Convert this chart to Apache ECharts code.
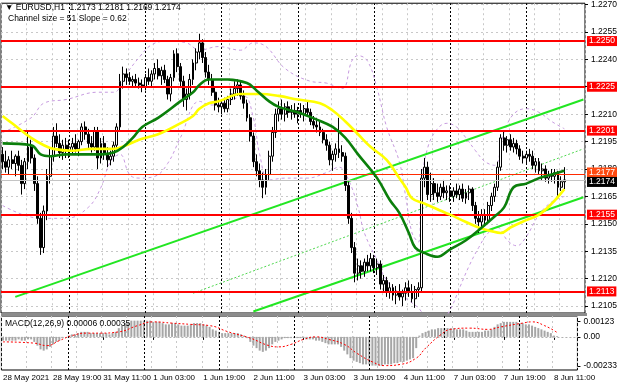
<!DOCTYPE html>
<html><head><meta charset="utf-8">
<script src="https://cdn.jsdelivr.net/npm/echarts@6/dist/echarts.min.js"></script>
<style>html,body{margin:0;padding:0;background:#fff}#c{width:620px;height:388px}</style>
</head><body><div id="c"></div><script>
// ---- data ----
const dayRanges = [['28 May',3,23],['31 May',0,23],['1 Jun',0,23],['2 Jun',0,23],['3 Jun',0,23],['4 Jun',0,23],['7 Jun',0,23],['8 Jun',0,12]];
const totalSlots = 184;
const opens = [1.2188,1.2184,1.2181,1.2185,1.2183,1.2187,1.2182,1.2172,1.2184,1.2192,
1.2186,1.2172,1.2153,1.2137,1.2157,1.2176,1.2187,1.2198,1.2194,1.2189,
1.2193,1.2190,1.2192,1.2194,1.2191,1.2195,1.2203,1.2199,1.2194,1.2192,
1.2201,1.2186,1.2194,1.2188,1.2185,1.2187,1.2193,1.2203,1.2228,1.2232,
1.2230,1.2228,1.2229,1.2227,1.2226,1.2225,1.2230,1.2228,1.2232,1.2235,
1.2231,1.2234,1.2229,1.2221,1.2230,1.2243,1.2236,1.2228,1.2218,1.2221,
1.2229,1.2238,1.2244,1.2249,1.2241,1.2233,1.2229,1.2222,1.2215,1.2214,
1.2216,1.2213,1.2218,1.2221,1.2224,1.2226,1.2220,1.2216,1.2208,1.2198,
1.2184,1.2179,1.2174,1.2170,1.2177,1.2187,1.2200,1.2210,1.2213,1.2210,
1.2214,1.2211,1.2212,1.2210,1.2212,1.2210,1.2213,1.2211,1.2206,1.2204,
1.2203,1.2200,1.2196,1.2193,1.2185,1.2188,1.2191,1.2189,1.2187,1.2171,
1.2153,1.2137,1.2123,1.2127,1.2124,1.2129,1.2127,1.2131,1.2126,1.2128,
1.2117,1.2119,1.2113,1.2115,1.2111,1.2113,1.2110,1.2112,1.2115,1.2113,
1.2109,1.2114,1.2115,1.2175,1.2181,1.2166,1.2172,1.2167,1.2165,1.2170,
1.2167,1.2168,1.2165,1.2168,1.2166,1.2169,1.2164,1.2167,1.2169,1.2160,
1.2153,1.2151,1.2155,1.2152,1.2160,1.2165,1.2170,1.2181,1.2197,1.2193,
1.2196,1.2192,1.2194,1.2191,1.2187,1.2186,1.2188,1.2187,1.2182,1.2184,
1.2179,1.2180,1.2175,1.2177,1.2176,1.2178,1.2170,1.2173];
const highs = [1.2192,1.2190,1.2187,1.2190,1.2188,1.2190,1.2185,1.2186,1.2201,1.2196,
1.2188,1.2176,1.2156,1.2160,1.2180,1.2192,1.2203,1.2205,1.2199,1.2196,
1.2197,1.2196,1.2197,1.2199,1.2196,1.2205,1.2206,1.2202,1.2198,1.2203,
1.2203,1.2197,1.2198,1.2192,1.2190,1.2195,1.2205,1.2232,1.2236,1.2235,
1.2233,1.2231,1.2232,1.2230,1.2229,1.2232,1.2235,1.2234,1.2238,1.2240,
1.2236,1.2237,1.2231,1.2232,1.2245,1.2246,1.2238,1.2231,1.2224,1.2232,
1.2240,1.2246,1.2254,1.2251,1.2244,1.2237,1.2232,1.2225,1.2219,1.2218,
1.2219,1.2220,1.2224,1.2228,1.2229,1.2228,1.2223,1.2218,1.2210,1.2200,
1.2188,1.2183,1.2178,1.2180,1.2190,1.2203,1.2213,1.2217,1.2218,1.2216,
1.2217,1.2215,1.2216,1.2214,1.2216,1.2215,1.2217,1.2213,1.2209,1.2208,
1.2206,1.2202,1.2199,1.2195,1.2190,1.2194,1.2208,1.2193,1.2189,1.2173,
1.2156,1.2140,1.2131,1.2130,1.2131,1.2133,1.2134,1.2133,1.2131,1.2130,
1.2122,1.2121,1.2118,1.2117,1.2116,1.2117,1.2114,1.2118,1.2119,1.2117,
1.2116,1.2118,1.2180,1.2186,1.2184,1.2178,1.2175,1.2172,1.2172,1.2174,
1.2171,1.2171,1.2170,1.2172,1.2171,1.2172,1.2169,1.2171,1.2170,1.2162,
1.2157,1.2158,1.2158,1.2162,1.2167,1.2172,1.2184,1.2199,1.2201,1.2198,
1.2199,1.2197,1.2196,1.2193,1.2190,1.2190,1.2191,1.2190,1.2186,1.2186,
1.2183,1.2182,1.2179,1.2180,1.2180,1.2179,1.2176,1.2181];
const lows = [1.2180,1.2178,1.2177,1.2180,1.2176,1.2179,1.2166,1.2169,1.2180,1.2183,
1.2168,1.2150,1.2133,1.2134,1.2152,1.2172,1.2184,1.2192,1.2186,1.2185,
1.2186,1.2186,1.2188,1.2189,1.2187,1.2193,1.2196,1.2191,1.2189,1.2190,
1.2180,1.2183,1.2185,1.2181,1.2182,1.2184,1.2191,1.2201,1.2224,1.2226,
1.2226,1.2225,1.2225,1.2224,1.2222,1.2223,1.2226,1.2225,1.2229,1.2229,
1.2226,1.2227,1.2218,1.2217,1.2228,1.2233,1.2225,1.2214,1.2212,1.2218,
1.2226,1.2234,1.2240,1.2238,1.2230,1.2226,1.2220,1.2212,1.2211,1.2210,
1.2211,1.2211,1.2215,1.2218,1.2220,1.2218,1.2213,1.2206,1.2195,1.2181,
1.2176,1.2170,1.2164,1.2166,1.2174,1.2184,1.2197,1.2206,1.2207,1.2206,
1.2208,1.2207,1.2208,1.2205,1.2208,1.2206,1.2209,1.2204,1.2202,1.2200,
1.2198,1.2194,1.2190,1.2182,1.2179,1.2184,1.2186,1.2184,1.2168,1.2150,
1.2134,1.2118,1.2119,1.2120,1.2121,1.2124,1.2124,1.2123,1.2122,1.2114,
1.2113,1.2110,1.2109,1.2108,1.2106,1.2108,1.2105,1.2108,1.2110,1.2107,
1.2104,1.2110,1.2113,1.2170,1.2163,1.2162,1.2163,1.2162,1.2163,1.2164,
1.2163,1.2162,1.2162,1.2164,1.2163,1.2162,1.2161,1.2163,1.2157,1.2150,
1.2145,1.2148,1.2149,1.2150,1.2157,1.2162,1.2168,1.2179,1.2190,1.2189,
1.2190,1.2189,1.2188,1.2185,1.2183,1.2183,1.2184,1.2180,1.2178,1.2177,
1.2174,1.2173,1.2172,1.2173,1.2172,1.2164,1.2168,1.2169];
const closes = [1.2184,1.2181,1.2185,1.2183,1.2187,1.2182,1.2172,1.2184,1.2192,1.2186,
1.2172,1.2153,1.2137,1.2157,1.2176,1.2187,1.2198,1.2194,1.2189,1.2193,
1.2190,1.2192,1.2194,1.2191,1.2195,1.2203,1.2199,1.2194,1.2192,1.2201,
1.2186,1.2194,1.2188,1.2185,1.2187,1.2193,1.2203,1.2228,1.2232,1.2230,
1.2228,1.2229,1.2227,1.2226,1.2225,1.2230,1.2228,1.2232,1.2235,1.2231,
1.2234,1.2229,1.2221,1.2230,1.2243,1.2236,1.2228,1.2218,1.2221,1.2229,
1.2238,1.2244,1.2249,1.2241,1.2233,1.2229,1.2222,1.2215,1.2214,1.2216,
1.2213,1.2218,1.2221,1.2224,1.2226,1.2220,1.2216,1.2208,1.2198,1.2184,
1.2179,1.2174,1.2170,1.2177,1.2187,1.2200,1.2210,1.2213,1.2210,1.2214,
1.2211,1.2212,1.2210,1.2212,1.2210,1.2213,1.2211,1.2206,1.2204,1.2203,
1.2200,1.2196,1.2193,1.2185,1.2188,1.2191,1.2189,1.2187,1.2171,1.2153,
1.2137,1.2123,1.2127,1.2124,1.2129,1.2127,1.2131,1.2126,1.2128,1.2117,
1.2119,1.2113,1.2115,1.2111,1.2113,1.2110,1.2112,1.2115,1.2113,1.2109,
1.2114,1.2115,1.2175,1.2181,1.2166,1.2172,1.2167,1.2165,1.2170,1.2167,
1.2168,1.2165,1.2168,1.2166,1.2169,1.2164,1.2167,1.2169,1.2160,1.2153,
1.2151,1.2155,1.2152,1.2160,1.2165,1.2170,1.2181,1.2197,1.2193,1.2196,
1.2192,1.2194,1.2191,1.2187,1.2186,1.2188,1.2187,1.2182,1.2184,1.2179,
1.2180,1.2175,1.2177,1.2176,1.2178,1.2170,1.2173,1.2174];
// moving averages / bands read at sampled bars: [barIndex, price]
const maGreen = [[0,1.2194],[9,1.2193],[12,1.2188],[15,1.2187],[20,1.2188],[31,1.2188],[35,1.2189],[38,1.2192],[41,1.2197],[44,1.2203],[49,1.2208],[56,1.2217],[60,1.2222],[62,1.2226],[65,1.2229],[71,1.2229],[77,1.2227],[80,1.2223],[84,1.2217],[87,1.2214],[93,1.2211],[99,1.2207],[104,1.2203],[108,1.2197],[112,1.2188],[118,1.2175],[122,1.2163],[125,1.2156],[128,1.2145],[130,1.2137],[133,1.2134],[137,1.2132],[141,1.2136],[146,1.2141],[151,1.2148],[155,1.2154],[158,1.2159],[161,1.2170],[165,1.2172],[169,1.2175],[173,1.2177],[177,1.2179]];
const maYellow = [[0,1.2209],[3,1.2205],[9,1.2197],[13,1.2193],[16,1.2191],[22,1.2190],[28,1.2191],[35,1.2191],[39,1.2193],[43,1.2196],[49,1.2199],[56,1.2205],[60,1.2209],[62,1.2213],[65,1.2216],[68,1.2217],[75,1.2221],[81,1.2221],[87,1.2220],[93,1.2218],[100,1.2216],[104,1.2212],[108,1.2206],[112,1.2199],[116,1.2192],[121,1.2185],[125,1.2175],[127,1.2170],[129,1.2164],[133,1.2161],[137,1.2158],[141,1.2155],[146,1.2151],[150,1.2148],[154,1.2146],[157,1.2145],[160,1.2148],[165,1.2152],[169,1.2155],[173,1.2161],[177,1.2169]];
const bandUpper = [[0,1.2200],[9,1.2208],[13,1.2216],[20,1.2218],[30,1.2222],[35,1.2222],[39,1.2232],[43,1.2241],[47,1.2248],[52,1.2250],[58,1.2249],[62,1.2245],[68,1.2247],[75,1.2245],[79,1.2249],[83,1.2247],[89,1.2235],[97,1.2228],[102,1.2227],[107,1.2224],[110,1.2239],[112,1.2242],[115,1.2239],[118,1.2224],[121,1.2203],[125,1.2184],[127,1.2165],[129,1.2145],[131,1.2140],[132,1.2172],[134,1.2192],[137,1.2202],[140,1.2205],[143,1.2203],[146,1.2197],[149,1.2190],[152,1.2184],[155,1.2182],[158,1.2200],[161,1.2210],[165,1.2213],[169,1.2211],[173,1.2206],[177,1.2202]];
const bandLower = [[0,1.2160],[12,1.2153],[20,1.2153],[27,1.2159],[31,1.2170],[34,1.2184],[37,1.2188],[40,1.2177],[43,1.2175],[48,1.2176],[52,1.2183],[56,1.2197],[62,1.2217],[66,1.2215],[71,1.2217],[76,1.2220],[79,1.2208],[81,1.2188],[84,1.2174],[89,1.2175],[96,1.2175],[102,1.2178],[106,1.2181],[109,1.2174],[112,1.2159],[114,1.2145],[118,1.2130],[121,1.2119],[125,1.2112],[128,1.2108],[131,1.2104],[134,1.2098],[138,1.2097],[141,1.2103],[144,1.2115],[147,1.2127],[150,1.2137],[153,1.2145],[156,1.2148],[159,1.2141],[162,1.2138],[165,1.2143],[169,1.2155],[173,1.2162],[177,1.2165]];
const channelUpper = [[4,1.2110],[183,1.2218]];
const channelLower = [[79,1.2102],[183,1.21645]];
const channelMid = [[60,1.2112],[183,1.2191]];
const levels = [1.2250,1.2225,1.2201,1.2155,1.2113];
const askPrice = 1.2177, bidPrice = 1.2174;
const priceTicks = [1.2270,1.2255,1.2240,1.2225,1.2210,1.2195,1.2180,1.2165,1.2150,1.2135,1.2120,1.2105];
const macdTicks = [0.00123,0,-0.00233];
const macdValues = [-0.0003,-0.0003,-0.0003,-0.0003,-0.0003,-0.0002,-0.0003,-0.0003,-0.0002,-0.0002,
-0.0004,-0.0007,-0.0010,-0.0011,-0.0010,-0.0008,-0.0006,-0.0004,-0.0003,-0.0001,
0.0000,0.0001,0.0002,0.0002,0.0003,0.0004,0.0004,0.0004,0.0003,0.0003,
0.0003,0.0003,0.0003,0.0003,0.0002,0.0003,0.0004,0.0007,0.0009,0.0011,
0.0012,0.0013,0.0013,0.0013,0.0013,0.0013,0.0013,0.0013,0.0012,0.0012,
0.0012,0.0011,0.0010,0.0010,0.0011,0.0011,0.0010,0.0009,0.0009,0.0009,
0.0010,0.0011,0.0011,0.0011,0.0010,0.0009,0.0008,0.0006,0.0005,0.0004,
0.0003,0.0003,0.0003,0.0003,0.0003,0.0003,0.0002,0.0001,-0.0001,-0.0004,
-0.0007,-0.0009,-0.0011,-0.0012,-0.0011,-0.0009,-0.0006,-0.0004,-0.0003,-0.0002,
-0.0001,-0.0001,-0.0001,-0.0001,-0.0001,-0.0001,-0.0001,-0.0002,-0.0002,-0.0002,
-0.0003,-0.0003,-0.0004,-0.0005,-0.0006,-0.0006,-0.0006,-0.0006,-0.0008,-0.0011,
-0.0014,-0.0017,-0.0019,-0.0020,-0.0021,-0.0022,-0.0022,-0.0022,-0.0023,-0.0023,
-0.0023,-0.0023,-0.0022,-0.0022,-0.0022,-0.0021,-0.0021,-0.0020,-0.0020,-0.0019,
-0.0018,-0.0017,-0.0009,0.0001,0.0003,0.0004,0.0005,0.0006,0.0006,0.0007,
0.0007,0.0007,0.0007,0.0007,0.0007,0.0006,0.0006,0.0006,0.0005,0.0004,
0.0004,0.0004,0.0004,0.0004,0.0005,0.0005,0.0006,0.0008,0.0010,0.0011,
0.0012,0.0012,0.0012,0.0012,0.0012,0.0011,0.0011,0.0010,0.0010,0.0009,
0.0008,0.0007,0.0006,0.0005,0.0004,0.0003,0.0001,0.00006];
const signalPoints = [[0,-0.0004],[10,-0.0005],[14,-0.0007],[18,-0.0003],[22,0.0001],[27,0.0003],[31,0.0003],[37,0.0004],[43,0.0009],[48,0.0012],[54,0.0011],[60,0.0010],[66,0.0009],[72,0.0004],[79,-0.0001],[85,-0.0007],[88,-0.0008],[92,-0.0006],[96,-0.0002],[100,0.0000],[104,-0.0002],[109,-0.0006],[113,-0.0013],[118,-0.0020],[122,-0.0023],[127,-0.0022],[132,-0.0017],[135,-0.0009],[140,0.0002],[143,0.0006],[149,0.0007],[155,0.0006],[159,0.0008],[166,0.0011],[169,0.0012],[173,0.0009],[177,0.00035]];
const headerText = '\u25BC EURUSD,H1  1.2173 1.2181 1.2169 1.2174';
const channelText = 'Channel size = 51 Slope = 0.62';
const macdText = 'MACD(12,26,9) 0.00006 0.00035';

// ---- build ----
const categories = [];
dayRanges.forEach(([d,a,b]) => { for (let h=a; h<=b; h++) categories.push(d + ' ' + String(h).padStart(2,'0') + ':00'); });
while (categories.length < totalSlots) categories.push('');
const daySeps = categories.map((c,i)=>c.endsWith(' 00:00') ? i : -1).filter(i=>i>=0);
const candles = opens.map((o,i)=>[o, closes[i], lows[i], highs[i]]);

const FONT = 'Liberation Sans, Arial, sans-serif';
const sepLines = daySeps.map(i=>({xAxis:i}));
const levelLines = levels.map(v=>({yAxis:v, lineStyle:{color:'#ff0000', width:2, type:'solid'},
  label:{backgroundColor:'#ff0000', color:'#fff'}}));
levelLines.push({yAxis:askPrice, lineStyle:{color:'#ff2a00', width:1, type:'solid'}, label:{backgroundColor:'#ff4a10', color:'#fff', offset:[0,-2]}});
levelLines.push({yAxis:bidPrice, lineStyle:{color:'#c4c4c4', width:1, type:'solid'}, label:{backgroundColor:'#000', color:'#fff', offset:[0,2]}});

const chart = echarts.init(document.getElementById('c'), null, {renderer:'canvas'});
chart.setOption({
  animation:false,
  backgroundColor:'#fff',
  title:[
    {text:headerText, left:5, top:3, padding:0, textStyle:{fontSize:8.5, fontWeight:'normal', color:'#000', fontFamily:FONT}},
    {text:channelText, left:8, top:14, padding:0, textStyle:{fontSize:8.5, fontWeight:'normal', color:'#000', fontFamily:FONT}},
    {text:macdText, left:5, top:319, padding:0, textStyle:{fontSize:8.5, fontWeight:'normal', color:'#000', fontFamily:FONT}}
  ],
  grid:[
    {left:1, top:2, width:586, height:311, show:true, borderColor:'#000', borderWidth:1, backgroundColor:'transparent'},
    {left:1, top:316, width:586, height:54, show:true, borderColor:'#000', borderWidth:1, backgroundColor:'transparent'}
  ],
  graphic:[{type:'rect', shape:{x:1, y:313, width:586, height:3}, style:{fill:'#8c8c8c'}, silent:true}],
  xAxis:[
    {type:'category', gridIndex:0, data:categories, axisLine:{show:false}, axisTick:{show:false}, axisLabel:{show:false},
      splitLine:{show:true, interval:7, lineStyle:{color:'#c8c8c8', type:[2,3], width:1}}},
    {type:'category', gridIndex:1, data:categories, axisLine:{show:false},
      axisTick:{show:true, interval:15, alignWithLabel:true, length:3, lineStyle:{color:'#000'}},
      axisLabel:{show:true, interval:15, align:'left', margin:4, fontSize:8, fontFamily:FONT, color:'#000',
        formatter:(v,idx)=> idx===0 ? '28 May 2021' : v},
      splitLine:{show:true, interval:7, lineStyle:{color:'#c8c8c8', type:[2,3], width:1}}}
  ],
  yAxis:[
    {type:'value', gridIndex:0, position:'right', min:1.21012, max:1.22707,
      axisLine:{show:false},
      axisTick:{show:true, customValues:priceTicks, length:3, lineStyle:{color:'#000'}},
      axisLabel:{show:true, customValues:priceTicks, formatter:v=>v.toFixed(4), margin:6, fontSize:8.5, fontFamily:FONT, color:'#000'},
      splitLine:{show:true, lineStyle:{color:'#c8c8c8', type:[2,3], width:1}}},
    {type:'value', gridIndex:1, position:'right', min:-0.00265, max:0.00167,
      axisLine:{show:false},
      axisTick:{show:true, customValues:macdTicks, length:3, lineStyle:{color:'#000'}},
      axisLabel:{show:true, customValues:macdTicks, formatter:v=> v===0 ? '0.00' : v.toFixed(5), margin:6, fontSize:8.5, fontFamily:FONT, color:'#000'},
      splitLine:{show:false}}
  ],
  series:[
    {type:'line', xAxisIndex:0, yAxisIndex:0, data:bandUpper, showSymbol:false, smooth:0.4, silent:true,
      lineStyle:{color:'#c79be0', width:1, type:[3,3]}, z:2},
    {type:'line', xAxisIndex:0, yAxisIndex:0, data:bandLower, showSymbol:false, smooth:0.4, silent:true,
      lineStyle:{color:'#c79be0', width:1, type:[3,3]}, z:2},
    {type:'line', xAxisIndex:0, yAxisIndex:0, data:channelMid, showSymbol:false, silent:true,
      lineStyle:{color:'#4fd84f', width:1, type:[2,2]}, z:3},
    {type:'line', xAxisIndex:0, yAxisIndex:0, data:channelUpper, showSymbol:false, silent:true,
      lineStyle:{color:'#22e622', width:2}, z:3},
    {type:'line', xAxisIndex:0, yAxisIndex:0, data:channelLower, showSymbol:false, silent:true,
      lineStyle:{color:'#22e622', width:2}, z:3},
    {type:'candlestick', xAxisIndex:0, yAxisIndex:0, data:candles, barWidth:2.4, silent:true, z:4,
      itemStyle:{color:'#ffffff', color0:'#000000', borderColor:'#000000', borderColor0:'#000000', borderWidth:1},
      markLine:{silent:true, symbol:['none','none'], precision:4, animation:false, z:1,
        lineStyle:{color:'#000', type:[2,2], width:1},
        label:{show:false},
        data:sepLines}},
    {type:'line', xAxisIndex:0, yAxisIndex:0, data:maYellow, showSymbol:false, smooth:0.4, silent:true,
      lineStyle:{color:'#ffff00', width:2.6}, z:5},
    {type:'line', xAxisIndex:0, yAxisIndex:0, data:maGreen, showSymbol:false, smooth:0.4, silent:true,
      lineStyle:{color:'#0b7f0b', width:2.6}, z:6},
    {type:'line', xAxisIndex:0, yAxisIndex:0, data:[], showSymbol:false, silent:true, z:7,
      markLine:{silent:true, symbol:['none','none'], precision:4, animation:false,
        label:{show:true, position:'end', distance:2, formatter:p=>Number(p.value).toFixed(4), fontSize:8.5, fontFamily:FONT, padding:[1,2,0,2]},
        data:levelLines}},
    {type:'bar', xAxisIndex:1, yAxisIndex:1, data:macdValues, barWidth:2, silent:true, itemStyle:{color:'#a6a6a6'},
      markLine:{silent:true, symbol:['none','none'], animation:false, label:{show:false},
        data:[{yAxis:0, lineStyle:{color:'#b0b0b0', type:[2,2], width:1}}].concat(daySeps.map(i=>({xAxis:i, lineStyle:{color:'#000', type:[2,2], width:1}})))}},
    {type:'line', xAxisIndex:1, yAxisIndex:1, data:signalPoints, showSymbol:false, smooth:0.5, silent:true,
      lineStyle:{color:'#ff0000', width:1, type:[2,2]}, z:5}
  ]
});
</script></body></html>
